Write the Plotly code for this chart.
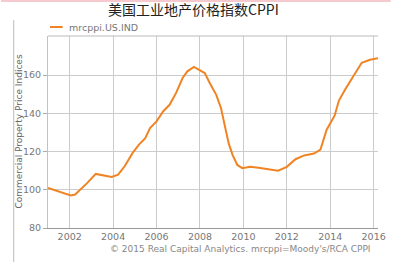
import plotly.graph_objects as go

title_text = "美国工业地产价格指数CPPI"
series_name = "mrcppi.US.IND"
y_title = "Commercial Property Price Indices"
caption = "© 2015 Real Capital Analytics. mrcppi=Moody's/RCA CPPI"

years = [2001.0, 2001.25, 2001.5, 2001.75, 2002.05, 2002.25, 2002.5, 2002.8, 2003.2, 2003.55,
         2003.93, 2004.23, 2004.53, 2004.9, 2005.18, 2005.48, 2005.7, 2006.0, 2006.3, 2006.6,
         2006.9, 2007.2, 2007.42, 2007.72, 2007.95, 2008.22, 2008.45, 2008.75, 2008.97, 2009.12,
         2009.32, 2009.5, 2009.72, 2009.95, 2010.3, 2010.7, 2011.1, 2011.6, 2012.0, 2012.4,
         2012.8, 2013.25, 2013.55, 2013.83, 2014.2, 2014.4, 2014.7, 2015.0, 2015.45, 2015.83, 2016.2]
values = [101, 100, 99, 98.3, 97, 97.5, 100, 103.5, 108.3, 107.4,
          106.7, 107.9, 112.3, 119.3, 123.5, 127, 132.3, 135.8, 141, 144.5,
          150.7, 158.5, 162, 164.3, 162.9, 161.1, 155.9, 149.7, 142.7, 134,
          124.4, 118.3, 113, 111.3, 112, 111.5, 111, 110, 112, 116,
          118, 119, 121, 131.3, 138.8, 146.7, 152.8, 158.1, 166.5, 168.1, 168.9]

x_ticks = [2002, 2004, 2006, 2008, 2010, 2012, 2014, 2016]
y_ticks = [80, 100, 120, 140, 160]

line_color = "#f08424"
gray_text = "#777777"
grid = "#cccccc"

fig = go.Figure()
fig.add_trace(go.Scatter(x=years, y=values, mode="lines", name=series_name,
                         line=dict(color=line_color, width=2), showlegend=False))

L, R, T, B = 48, 13, 36, 34
W, H = 398, 262
pw = W - L - R
ph = H - T - B

def px(xp):
    return (xp - L) / pw

def py(yp):
    return (H - B - yp) / ph

fig.update_layout(
    width=W, height=H,
    margin=dict(l=L, r=R, t=T, b=B),
    paper_bgcolor="white", plot_bgcolor="white",
    font=dict(family="DejaVu Sans", color=gray_text),
    xaxis=dict(range=[2001.0, 2016.2], tickvals=x_ticks, ticktext=[str(v) for v in x_ticks],
               showgrid=True, gridcolor=grid, gridwidth=1, zeroline=False,
               showline=True, linecolor="#999999", linewidth=1,
               tickfont=dict(size=9.5, color=gray_text), ticks=""),
    yaxis=dict(range=[80, 180.5], tickvals=y_ticks, showgrid=True, gridcolor=grid, gridwidth=1,
               zeroline=False, showline=True, linecolor="#a8c8e4", linewidth=1,
               ticks="outside", ticklen=4, tickcolor="#aaaaaa",
               tickfont=dict(size=9.5, color=gray_text)),
    shapes=[
        dict(type="rect", xref="paper", yref="paper", x0=px(0), x1=px(W), y0=py(0), y1=py(2),
             fillcolor="#f6c9cf", line=dict(width=0), layer="above"),
        dict(type="line", xref="paper", yref="paper", x0=px(13), x1=px(13), y0=py(20), y1=py(262),
             line=dict(color="#bbbbbb", width=1)),
        dict(type="line", xref="paper", yref="paper", x0=0, x1=px(385), y0=1, y1=1,
             line=dict(color="#bbbbbb", width=1)),
        dict(type="line", xref="paper", yref="paper", x0=px(50), x1=px(63), y0=py(27), y1=py(27),
             line=dict(color=line_color, width=2)),
    ],
    annotations=[
        dict(text=title_text, x=px(197), y=py(9), xref="paper", yref="paper", showarrow=False,
             font=dict(family="Noto Sans CJK SC", size=14, color="#222222"),
             xanchor="center", yanchor="middle"),
        dict(text=series_name, x=px(67), y=py(27), xref="paper", yref="paper", showarrow=False,
             font=dict(size=9.5, color=gray_text), xanchor="left", yanchor="middle"),
        dict(text=y_title, x=px(18), y=py(131), xref="paper", yref="paper", showarrow=False,
             textangle=-90, font=dict(size=9, color="#666666"), xanchor="center", yanchor="middle"),
        dict(text=caption, x=px(380), y=py(249), xref="paper", yref="paper", showarrow=False,
             font=dict(size=9, color="#888888"), xanchor="right", yanchor="middle"),
    ],
)

fig.write_html("out.html")
